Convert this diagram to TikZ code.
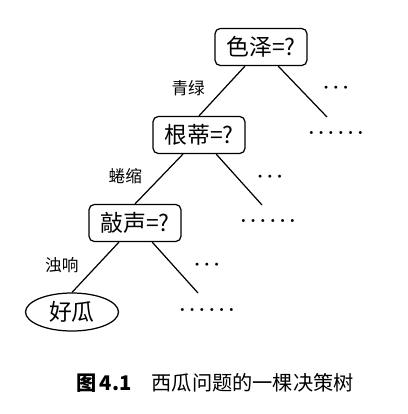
\documentclass[tikz,border=0pt]{standalone}
\usepackage{fontspec}
\newfontfamily\cjk{Noto Sans CJK SC}
\usetikzlibrary{shapes.geometric}

\begin{document}
\begin{tikzpicture}[x=0.02cm,y=-0.02cm,line width=0.7pt,
    testbox/.style={draw,rounded corners=3pt,minimum width=1.84cm,minimum height=0.74cm,inner sep=0,font=\cjk\fontsize{13pt}{13pt}\selectfont},
    leafnode/.style={draw,ellipse,minimum width=1.86cm,minimum height=0.76cm,inner sep=0,font=\cjk\fontsize{13pt}{13pt}\selectfont},
    valuelabel/.style={font=\cjk\fontsize{9.5pt}{9.5pt}\selectfont,inner sep=1pt},
    moredots/.style={font=\fontsize{10.5pt}{10.5pt}\selectfont\boldmath,inner sep=0}]
    \useasboundingbox (0,0) rectangle (408,414);
    % tree nodes
    \node[testbox] (seze) at (261,47) {色泽=?};
    \node[testbox] (gendi) at (199,135) {根蒂=?};
    \node[testbox] (qiaosheng) at (135,223) {敲声=?};
    \node[leafnode] (haogua) at (72,312) {好瓜};
    % free ends of the other branches
    \coordinate (sezeend) at (327,117);
    \coordinate (gendiend) at (262,205);
    \coordinate (qiaoshengend) at (198,293);
    % branches
    \draw (seze.230) -- node[valuelabel,pos=0.45,left=0.34cm] (qinglv) {青绿} (gendi.north);
    \draw (seze.312) -- (sezeend);
    \draw (gendi.230) -- node[valuelabel,pos=0.45,left=0.34cm] (quansuo) {蜷缩} (qiaosheng.north);
    \draw (gendi.312) -- (gendiend);
    \draw (qiaosheng.230) -- node[valuelabel,pos=0.45,left=0.34cm] (zhuoxiang) {浊响} (haogua.north);
    \draw (qiaosheng.312) -- (qiaoshengend);
    % dots for the omitted parts
    \node[moredots] (sezedots) at (336,88) {$\cdots$};
    \node[moredots] (sezemore) at (336,133) {$\ldots\ldots$};
    \node[moredots] (gendidots) at (270,177) {$\cdots$};
    \node[moredots] (gendimore) at (268,221) {$\ldots\ldots$};
    \node[moredots] (qiaoshengdots) at (207,265) {$\cdots$};
    \node[moredots] (qiaoshengmore) at (207,310) {$\ldots\ldots$};
    % caption
    \node[font=\cjk\fontsize{11.5pt}{11.5pt}\selectfont] (caption) at (215,383) {{\bfseries 图}\,\textbf{4.1}\quad 西瓜问题的一棵决策树};
\end{tikzpicture}
\end{document}
